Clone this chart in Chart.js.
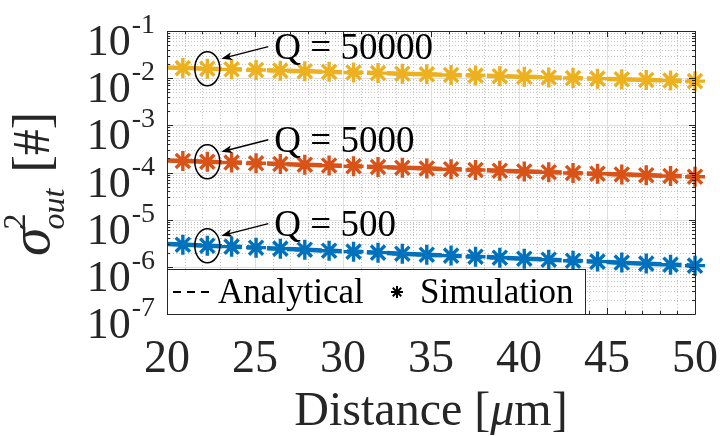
<!DOCTYPE html>
<html>
<head>
<meta charset="utf-8">
<script src="https://cdn.jsdelivr.net/npm/chart.js@4.4.1/dist/chart.umd.min.js"></script>
<style>
html,body{margin:0;padding:0;background:#ffffff;}
#box{width:720px;height:436px;}
</style>
</head>
<body>
<div id="box"><canvas id="chart" width="720" height="436"></canvas></div>
<script>
// ---------------- data ----------------
const distanceSim = [20.9, 22.29, 23.67, 25.06, 26.44, 27.83, 29.21, 30.6, 31.99, 33.37, 34.76,
                     36.14, 37.53, 38.91, 40.3, 41.69, 43.07, 44.46, 45.84, 47.23, 48.61, 50];
const distanceAna = [20, 25, 30, 35, 40, 45, 50];

const simQ50000 = [0.01633, 0.01585, 0.01538, 0.01493, 0.01445, 0.01403, 0.01361, 0.01321, 0.01282, 0.01245, 0.01208,
                   0.01169, 0.01135, 0.01102, 0.01069, 0.01038, 0.01007, 0.00977, 0.00946, 0.00918, 0.00891, 0.00865];
const simQ5000  = [1.754e-4, 1.690e-4, 1.629e-4, 1.570e-4, 1.517e-4, 1.462e-4, 1.409e-4, 1.358e-4, 1.309e-4, 1.262e-4, 1.216e-4,
                   1.175e-4, 1.132e-4, 1.091e-4, 1.052e-4, 1.014e-4, 9.77e-5, 9.42e-5, 9.10e-5, 8.77e-5, 8.45e-5, 8.15e-5];
const simQ500   = [2.95e-6, 2.81e-6, 2.68e-6, 2.55e-6, 2.43e-6, 2.31e-6, 2.20e-6, 2.10e-6, 2.00e-6, 1.90e-6, 1.81e-6,
                   1.73e-6, 1.64e-6, 1.56e-6, 1.49e-6, 1.42e-6, 1.35e-6, 1.29e-6, 1.23e-6, 1.17e-6, 1.11e-6, 1.06e-6];

const anaQ50000 = [0.0168, 0.01493, 0.01338, 0.01200, 0.01076, 0.00964, 0.00865];
const anaQ5000  = [1.796e-4, 1.574e-4, 1.380e-4, 1.210e-4, 1.060e-4, 9.29e-5, 8.15e-5];
const anaQ500   = [3.05e-6, 2.55e-6, 2.14e-6, 1.79e-6, 1.51e-6, 1.26e-6, 1.06e-6];

const seriesLabels = ['Q = 500', 'Q = 5000', 'Q = 50000'];
const circledIndex = 1;
const xTickValues = [20, 25, 30, 35, 40, 45, 50];
const yTickExponents = [-1, -2, -3, -4, -5, -6, -7];
const legendLabels = ['Analytical', 'Simulation'];
const xTitle = ['Distance [', 'μ', 'm]'];

// ---------------- styles ----------------
const COLORS = ['#0072BD', '#D95319', '#EDB120'];
const SERIF = '"Liberation Serif", "Times New Roman", serif';
const AXIS_COLOR = '#262626';

const simSeries = [simQ500, simQ5000, simQ50000];
const anaSeries = [anaQ500, anaQ5000, anaQ50000];

const datasets = [];
simSeries.forEach((arr, k) => {
  datasets.push({
    label: 'sim ' + seriesLabels[k],
    data: distanceSim.map((x, i) => ({x: x, y: arr[i]})),
    showLine: false,
    pointStyle: 'star',
    pointRadius: 10,
    pointBorderWidth: 3.4,
    borderColor: COLORS[k],
    backgroundColor: COLORS[k],
    clip: false,
    order: 0
  });
});
anaSeries.forEach((arr, k) => {
  datasets.push({
    label: 'ana ' + seriesLabels[k],
    data: distanceAna.map((x, i) => ({x: x, y: arr[i]})),
    showLine: true,
    borderColor: COLORS[k],
    backgroundColor: COLORS[k],
    borderWidth: 4.5,
    borderDash: [15, 5],
    pointRadius: 0,
    fill: false,
    order: 1
  });
});

// ---------------- custom drawing plugin ----------------
const matlabLook = {
  id: 'matlabLook',
  beforeDatasetsDraw(chart) {
    const ctx = chart.ctx, a = chart.chartArea, xs = chart.scales.x, ys = chart.scales.y;
    ctx.save();
    ctx.lineWidth = 1;
    // minor grid (dotted)
    ctx.strokeStyle = '#c4c4c4';
    ctx.setLineDash([1, 2]);
    ctx.beginPath();
    for (let v = xTickValues[0] + 1; v < xTickValues[xTickValues.length - 1]; v++) {
      if (xTickValues.includes(v)) continue;
      const px = Math.round(xs.getPixelForValue(v)) + 0.5;
      ctx.moveTo(px, a.top); ctx.lineTo(px, a.bottom);
    }
    yTickExponents.forEach(e => {
      if (e === yTickExponents[0]) return;
      for (let m = 2; m <= 9; m++) {
        const py = Math.round(ys.getPixelForValue(m * Math.pow(10, e))) + 0.5;
        ctx.moveTo(a.left, py); ctx.lineTo(a.right, py);
      }
    });
    ctx.stroke();
    // major grid
    ctx.setLineDash([]);
    ctx.strokeStyle = '#dfdfdf';
    ctx.beginPath();
    xTickValues.forEach(v => {
      const px = Math.round(xs.getPixelForValue(v)) + 0.5;
      ctx.moveTo(px, a.top); ctx.lineTo(px, a.bottom);
    });
    yTickExponents.forEach(e => {
      const py = Math.round(ys.getPixelForValue(Math.pow(10, e))) + 0.5;
      ctx.moveTo(a.left, py); ctx.lineTo(a.right, py);
    });
    ctx.stroke();
    ctx.restore();
  },
  afterDatasetsDraw(chart) {
    const ctx = chart.ctx, a = chart.chartArea, xs = chart.scales.x, ys = chart.scales.y;
    ctx.save();
    // axes box and ticks
    ctx.strokeStyle = AXIS_COLOR;
    ctx.lineWidth = 1;
    ctx.beginPath();
    ctx.rect(Math.round(a.left) + 0.5, Math.round(a.top) + 0.5, Math.round(a.right - a.left), Math.round(a.bottom - a.top));
    xTickValues.forEach(v => {
      const px = Math.round(xs.getPixelForValue(v)) + 0.5;
      ctx.moveTo(px, a.bottom); ctx.lineTo(px, a.bottom - 6);
      ctx.moveTo(px, a.top); ctx.lineTo(px, a.top + 6);
    });
    for (let v = xTickValues[0] + 1; v < xTickValues[xTickValues.length - 1]; v++) {
      if (xTickValues.includes(v)) continue;
      const px = Math.round(xs.getPixelForValue(v)) + 0.5;
      ctx.moveTo(px, a.bottom); ctx.lineTo(px, a.bottom - 3);
      ctx.moveTo(px, a.top); ctx.lineTo(px, a.top + 3);
    }
    yTickExponents.forEach(e => {
      const py = Math.round(ys.getPixelForValue(Math.pow(10, e))) + 0.5;
      ctx.moveTo(a.left, py); ctx.lineTo(a.left + 6, py);
      ctx.moveTo(a.right, py); ctx.lineTo(a.right - 6, py);
      if (e === yTickExponents[0]) return;
      for (let m = 2; m <= 9; m++) {
        const q = Math.round(ys.getPixelForValue(m * Math.pow(10, e))) + 0.5;
        ctx.moveTo(a.left, q); ctx.lineTo(a.left + 3, q);
        ctx.moveTo(a.right, q); ctx.lineTo(a.right - 3, q);
      }
    });
    ctx.stroke();

    // annotations: ellipse, arrow, label
    simSeries.forEach((arr, k) => {
      const px = xs.getPixelForValue(distanceSim[circledIndex]);
      const py = ys.getPixelForValue(arr[circledIndex]);
      ctx.strokeStyle = '#000';
      ctx.lineWidth = 1.5;
      ctx.beginPath();
      ctx.ellipse(px, py, 12.5, 17, 0, 0, Math.PI * 2);
      ctx.stroke();
      const x0 = px + 61, y0 = py - 22, x1 = px + 14, y1 = py - 10;
      ctx.lineWidth = 1.3;
      ctx.beginPath(); ctx.moveTo(x0, y0); ctx.lineTo(x1 + 6, y1 - 1.5); ctx.stroke();
      const ang = Math.atan2(y1 - y0, x1 - x0);
      ctx.fillStyle = '#000';
      ctx.beginPath();
      ctx.moveTo(x1, y1);
      ctx.lineTo(x1 - 11 * Math.cos(ang) + 4 * Math.sin(ang), y1 - 11 * Math.sin(ang) - 4 * Math.cos(ang));
      ctx.lineTo(x1 - 8 * Math.cos(ang), y1 - 8 * Math.sin(ang));
      ctx.lineTo(x1 - 11 * Math.cos(ang) - 4 * Math.sin(ang), y1 - 11 * Math.sin(ang) + 4 * Math.cos(ang));
      ctx.closePath(); ctx.fill();
      ctx.font = '37px ' + SERIF;
      ctx.textAlign = 'left'; ctx.textBaseline = 'alphabetic';
      ctx.fillText(seriesLabels[k], px + 67, py - 10);
    });

    // legend
    const L = {x0: 167, y0: 269, x1: 585, y1: 314};
    ctx.fillStyle = '#fff';
    ctx.fillRect(L.x0, L.y0, L.x1 - L.x0, L.y1 - L.y0);
    ctx.strokeStyle = '#262626'; ctx.lineWidth = 1;
    ctx.strokeRect(L.x0 + 0.5, L.y0 + 0.5, L.x1 - L.x0, L.y1 - L.y0);
    ctx.strokeStyle = '#000'; ctx.lineWidth = 2;
    ctx.setLineDash([8, 6]);
    ctx.beginPath(); ctx.moveTo(173, 292); ctx.lineTo(214, 292); ctx.stroke();
    ctx.setLineDash([]);
    ctx.fillStyle = '#000';
    ctx.font = '35px ' + SERIF;
    ctx.textAlign = 'left'; ctx.textBaseline = 'alphabetic';
    ctx.fillText(legendLabels[0], 218, 303);
    // star marker
    ctx.lineWidth = 2;
    ctx.beginPath();
    const sx = 397, sy = 292, r = 6;
    for (let i = 0; i < 4; i++) {
      const t = i * Math.PI / 4;
      ctx.moveTo(sx - r * Math.cos(t), sy - r * Math.sin(t));
      ctx.lineTo(sx + r * Math.cos(t), sy + r * Math.sin(t));
    }
    ctx.stroke();
    ctx.fillText(legendLabels[1], 420, 303);

    // y tick labels (10^e)
    ctx.fillStyle = AXIS_COLOR;
    yTickExponents.forEach(e => {
      const py = ys.getPixelForValue(Math.pow(10, e));
      ctx.font = '28px ' + SERIF;
      ctx.textAlign = 'right';
      const expStr = String(e);
      const ew = ctx.measureText(expStr).width;
      ctx.fillText(expStr, 155, py + 2);
      ctx.font = '44px ' + SERIF;
      ctx.fillText('10', 155 - ew - 1, py + 24);
    });

    // x tick labels
    ctx.font = '46px ' + SERIF;
    ctx.textAlign = 'center';
    xTickValues.forEach(v => {
      ctx.fillText(String(v), xs.getPixelForValue(v), 372);
    });

    // x title
    ctx.textAlign = 'left';
    ctx.font = '48px ' + SERIF;
    const w0 = ctx.measureText(xTitle[0]).width;
    ctx.font = 'italic 48px ' + SERIF;
    const w1 = ctx.measureText(xTitle[1]).width;
    ctx.font = '48px ' + SERIF;
    const w2 = ctx.measureText(xTitle[2]).width;
    const cx = (a.left + a.right) / 2;
    let tx = cx - (w0 + w1 + w2) / 2;
    ctx.fillText(xTitle[0], tx, 425); tx += w0;
    ctx.font = 'italic 48px ' + SERIF;
    ctx.fillText(xTitle[1], tx, 425); tx += w1;
    ctx.font = '48px ' + SERIF;
    ctx.fillText(xTitle[2], tx, 425);

    // y title  sigma^2_out [#]
    ctx.save();
    ctx.translate(49, 256);
    ctx.rotate(-Math.PI / 2);
    ctx.textAlign = 'left';
    let t = 0;
    ctx.font = 'italic 58px ' + SERIF;
    ctx.fillText('σ', t, 0);
    t += ctx.measureText('σ').width;
    ctx.font = '32px ' + SERIF;
    ctx.fillText('2', t - 2, -24);
    ctx.font = 'italic 32px ' + SERIF;
    ctx.fillText('out', t - 2, 15);
    t += ctx.measureText('out').width + 14;
    ctx.font = '52px ' + SERIF;
    ctx.fillText('[#]', t, 0);
    ctx.restore();

    ctx.restore();
  }
};

new Chart(document.getElementById('chart'), {
  type: 'scatter',
  data: {datasets: datasets},
  options: {
    responsive: false,
    animation: false,
    devicePixelRatio: 1,
    layout: {padding: {left: 0, right: 25, top: 31, bottom: 0}},
    plugins: {legend: {display: false}, tooltip: {enabled: false}},
    scales: {
      x: {
        type: 'linear', min: 20, max: 50,
        ticks: {display: false, stepSize: 5},
        grid: {display: false},
        border: {display: false},
        afterFit: s => { s.height = 122; }
      },
      y: {
        type: 'logarithmic', min: 1e-7, max: 1e-1,
        ticks: {display: false},
        grid: {display: false},
        border: {display: false},
        afterFit: s => { s.width = 167; }
      }
    }
  },
  plugins: [matlabLook]
});
</script>
</body>
</html>
